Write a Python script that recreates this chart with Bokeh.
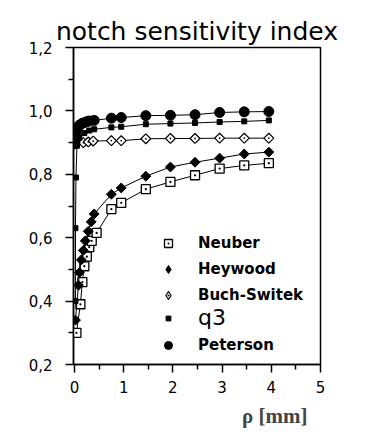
import math
import numpy as np
from bokeh.plotting import figure
from bokeh.models import FixedTicker, Legend, LegendItem, Title
from bokeh.embed import file_html
from bokeh.resources import INLINE

# ---- data ----
rho_neuber = [0.04, 0.12, 0.16, 0.20, 0.25, 0.30, 0.35, 0.45, 0.75, 0.95, 1.45, 1.95, 2.45, 2.95, 3.45, 3.95]
q_neuber = [0.30, 0.39, 0.46, 0.51, 0.54, 0.57, 0.59, 0.615, 0.69, 0.71, 0.753, 0.776, 0.797, 0.818, 0.828, 0.835]

rho_heywood = [0.02, 0.08, 0.10, 0.14, 0.18, 0.22, 0.28, 0.34, 0.40, 0.75, 0.95, 1.45, 1.95, 2.45, 2.95, 3.45, 3.95]
q_heywood = [0.34, 0.45, 0.49, 0.53, 0.56, 0.59, 0.62, 0.65, 0.675, 0.737, 0.757, 0.794, 0.823, 0.838, 0.851, 0.864, 0.870]

rho_buch = [0.0, 0.18, 0.28, 0.38, 0.75, 0.95, 1.45, 1.95, 2.45, 2.95, 3.45, 3.95]
q_buch = [0.895, 0.900, 0.902, 0.905, 0.906, 0.906, 0.912, 0.913, 0.913, 0.914, 0.914, 0.914]

rho_q3 = [0.02, 0.02, 0.03, 0.05, 0.10, 0.20, 0.30, 0.40, 0.75, 0.95, 1.45, 1.95, 2.45, 2.95, 3.45, 3.95]
q_q3 = [0.40, 0.63, 0.79, 0.89, 0.915, 0.930, 0.938, 0.942, 0.948, 0.950, 0.958, 0.960, 0.962, 0.965, 0.967, 0.970]

rho_peterson = [0.01, 0.03, 0.06, 0.10, 0.15, 0.20, 0.25, 0.30, 0.40, 0.75, 0.95, 1.45, 1.95, 2.45, 2.95, 3.45, 3.95]
q_peterson = [0.90, 0.93, 0.945, 0.955, 0.960, 0.963, 0.966, 0.968, 0.970, 0.977, 0.979, 0.985, 0.986, 0.988, 0.995, 0.997, 0.998]

x_ticks = [0, 1, 2, 3, 4, 5]
x_minor_ticks = [0.5, 1.5, 2.5, 3.5, 4.5]
x_tick_labels = ["0", "1", "2", "3", "4", "5"]
y_ticks = [0.2, 0.4, 0.6, 0.8, 1.0, 1.2]
y_minor_ticks = [0.3, 0.5, 0.7, 0.9, 1.1]
y_tick_labels = ["0,2", "0,4", "0,6", "0,8", "1,0", "1,2"]

title_text = "notch sensitivity index"
x_label = "ρ [mm]"

p = figure(width=383, height=433, output_backend="svg", toolbar_location=None,
           x_range=(-0.02, 5.0), y_range=(0.2, 1.2),
           min_border_left=73, min_border_right=63, min_border_top=47, min_border_bottom=69,
           background_fill_color="white", border_fill_color="white")

p.title.text = title_text
p.title.text_font = "DejaVu Sans"
p.title.text_font_size = "25px"
p.title.text_font_style = "normal"
p.title.text_color = "black"
p.title.align = "center"
p.title.standoff = 4

p.xgrid.visible = False
p.ygrid.visible = False
p.outline_line_color = "black"
p.outline_line_width = 1.5
p.outline_line_alpha = 1.0

for ax in (p.xaxis[0], p.yaxis[0]):
    ax.axis_line_width = 1.5
    ax.axis_line_color = "black"
    ax.major_tick_line_color = "black"
    ax.minor_tick_line_color = "black"
    ax.major_tick_line_width = 1.5
    ax.minor_tick_line_width = 1.5
    ax.major_tick_in = 0
    ax.major_tick_out = 8
    ax.minor_tick_in = 0
    ax.minor_tick_out = 5
    ax.major_label_text_font = "DejaVu Sans"
    ax.major_label_text_font_size = "15px"
    ax.major_label_text_color = "black"

p.xaxis.ticker = FixedTicker(ticks=x_ticks, minor_ticks=x_minor_ticks)
p.yaxis.ticker = FixedTicker(ticks=y_ticks, minor_ticks=y_minor_ticks)
p.xaxis.major_label_overrides = {t: l for t, l in zip(x_ticks, x_tick_labels)}
p.yaxis.major_label_overrides = {t: l for t, l in zip(y_ticks, y_tick_labels)}
p.xaxis.major_label_standoff = 8
p.yaxis.major_label_standoff = 13

rot = math.pi / 4
series = [
    ("Neuber", rho_neuber, q_neuber,
     dict(marker="square_dot", size=9, fill_color="white", line_color="black", line_width=1.3),
     dict(marker="square_dot", fill_color="white", line_color="black", line_width=1.3)),
    ("Heywood", rho_heywood, q_heywood,
     dict(marker="square", size=7, angle=rot, fill_color="black", line_color="black"),
     dict(marker="diamond", fill_color="black", line_color="black")),
    ("Buch-Switek", rho_buch, q_buch,
     dict(marker="square_dot", size=7, angle=rot, fill_color="white", line_color="black", line_width=1.2),
     dict(marker="diamond_dot", fill_color="white", line_color="black", line_width=1.2)),
    ("q3", rho_q3, q_q3,
     dict(marker="square", size=5, fill_color="black", line_color="black"),
     dict(marker="square", fill_color="black", line_color="black")),
    ("Peterson", rho_peterson, q_peterson,
     dict(marker="circle", size=10, fill_color="black", line_color="black"),
     dict(marker="circle", fill_color="black", line_color="black")),
]

legend_glyphs = {}
nan_pt = np.array([np.nan])
for name, xs, ys, style, lstyle in series:
    p.line(xs, ys, line_color="black", line_width=1)
    p.scatter(xs, ys, **style)
    # proxy renderer (one undrawable NaN point) used only for the legend swatch
    legend_glyphs[name] = p.scatter(x=nan_pt, y=nan_pt, size=8, **lstyle)

def make_legend(names, loc, font, size, style, height, gheight, spacing):
    lg = Legend(items=[LegendItem(label=n, renderers=[legend_glyphs[n]]) for n in names],
                location=loc, orientation="vertical",
                glyph_width=20, glyph_height=gheight, label_height=height,
                label_standoff=20, spacing=spacing, padding=0, margin=0,
                border_line_alpha=0, background_fill_alpha=0,
                label_text_font=font, label_text_font_size=size,
                label_text_font_style=style, label_text_color="black")
    p.add_layout(lg, "center")

make_legend(["Neuber", "Heywood", "Buch-Switek"], (85, 59), "DejaVu Sans", "15px", "bold", 20, 20, 6)
make_legend(["q3"], (85, 34), "DejaVu Sans", "22px", "normal", 20, 12, 0)
make_legend(["Peterson"], (85, 9), "DejaVu Sans", "15px", "bold", 20, 20, 0)

p.add_layout(Title(text=x_label, align="right", offset=13, text_font="Liberation Serif",
                   text_font_style="bold", text_font_size="21px", standoff=12), "below")

open("out.html", "w").write(file_html(p, INLINE))
